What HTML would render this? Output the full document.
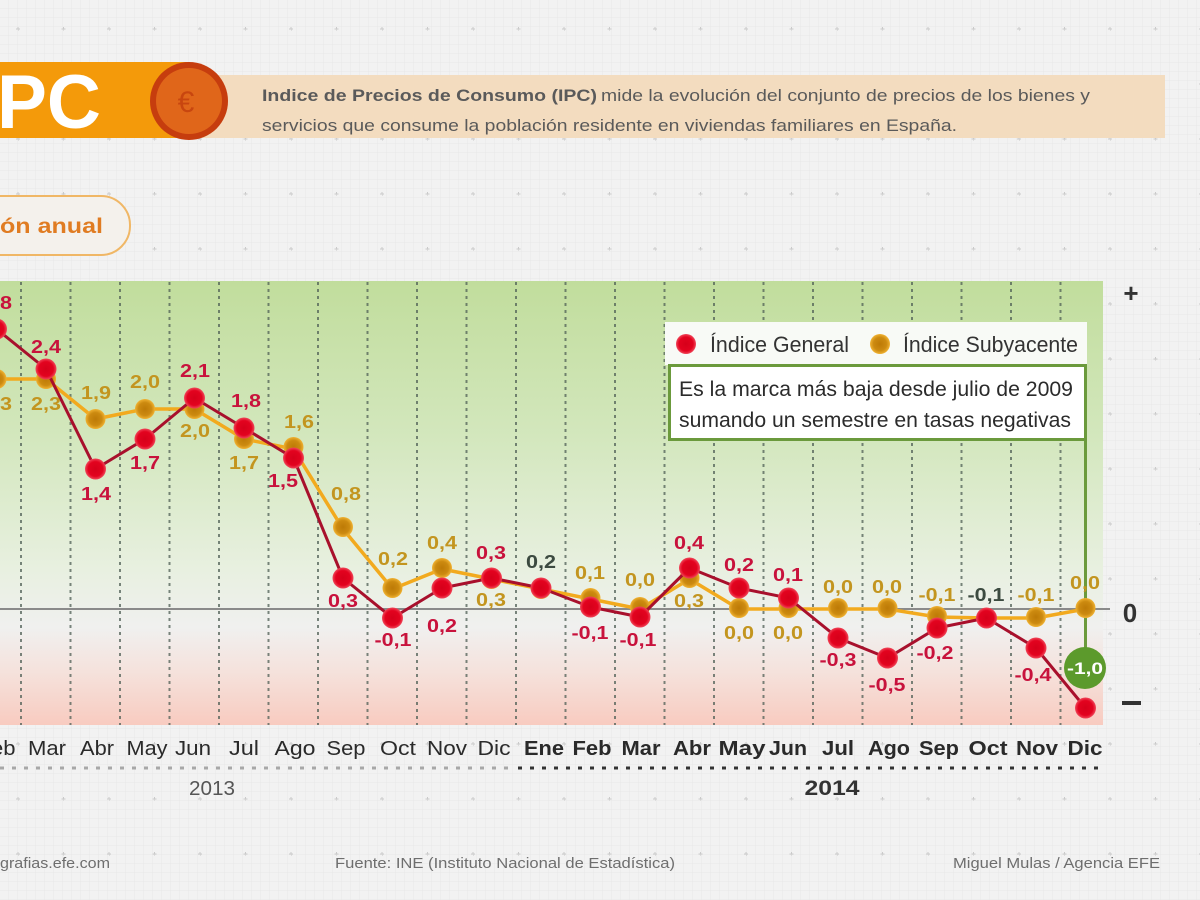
<!DOCTYPE html>
<html><head><meta charset="utf-8"><style>
html,body{margin:0;padding:0;background:#f2f2f2;}
svg{display:block;font-family:"Liberation Sans",Arial,sans-serif;}
</style></head><body>
<svg width="1200" height="900" viewBox="0 0 1200 900" xmlns="http://www.w3.org/2000/svg">
<defs>
<pattern id="fine" width="9" height="9" patternUnits="userSpaceOnUse">
<rect width="9" height="9" fill="#f2f2f2"/>
<path d="M9 0V9M0 9H9" stroke="#e8e8e8" stroke-width="1"/>
</pattern>
<pattern id="cross" x="18" y="29" width="45.5" height="55" patternUnits="userSpaceOnUse">
<path d="M-2 0H2M0 -2V2M43.5 0H47.5M45.5 53V57M43.5 55H47.5M-2 55H2M0 53V57" stroke="#cacaca" stroke-width="1"/>
</pattern>
<linearGradient id="chartbg" x1="0" y1="0" x2="0" y2="1">
<stop offset="0" stop-color="#c1dd9c"/>
<stop offset="0.35" stop-color="#d3e7bd"/>
<stop offset="0.65" stop-color="#e8f0e0"/>
<stop offset="0.78" stop-color="#f0f0ef"/>
<stop offset="0.88" stop-color="#f5e2dc"/>
<stop offset="1" stop-color="#f8cbc0"/>
</linearGradient>
<radialGradient id="rdot">
<stop offset="0" stop-color="#d6001a"/>
<stop offset="0.7" stop-color="#e3031f"/>
<stop offset="1" stop-color="#f0475a"/>
</radialGradient>
<radialGradient id="ydot">
<stop offset="0" stop-color="#bd7a06"/>
<stop offset="0.65" stop-color="#cc8a10"/>
<stop offset="1" stop-color="#f0b232"/>
</radialGradient>
</defs>

<!-- background -->
<rect width="1200" height="900" fill="url(#fine)"/>
<rect width="1200" height="900" fill="url(#cross)"/>

<!-- header -->
<rect x="200" y="75" width="965" height="63" fill="#f3dcbf"/>
<rect x="0" y="62" width="190" height="76" fill="#f49a0a"/>
<text x="-3" y="128" font-size="76" font-weight="bold" fill="#ffffff" textLength="104" lengthAdjust="spacingAndGlyphs">PC</text>
<circle cx="189" cy="101" r="39" fill="#c63d0e"/>
<circle cx="189" cy="101" r="33" fill="#e0661a"/>
<text x="186" y="112" font-size="30" fill="#c8460f" text-anchor="middle">€</text>
<text x="262" y="101" font-size="17" font-weight="bold" fill="#5a5a5a" textLength="335" lengthAdjust="spacingAndGlyphs">Indice de Precios de Consumo (IPC)</text>
<text x="601" y="101" font-size="17" fill="#5a5a5a" textLength="489" lengthAdjust="spacingAndGlyphs">mide la evolución del conjunto de precios de los bienes y</text>
<text x="262" y="131" font-size="17" fill="#5a5a5a" textLength="695" lengthAdjust="spacingAndGlyphs">servicios que consume la población residente en viviendas familiares en España.</text>

<!-- pill -->
<rect x="-60" y="196" width="190" height="59" rx="29" ry="29" fill="#f4f1ec" stroke="#f0b766" stroke-width="2"/>
<text x="0" y="233" font-size="21" font-weight="bold" fill="#e07c22" textLength="103" lengthAdjust="spacingAndGlyphs">ón anual</text>

<!-- chart area -->
<rect x="0" y="281" width="1103" height="444" fill="url(#chartbg)"/>
<g stroke="#4f5f55" stroke-opacity="0.75" stroke-width="2" stroke-dasharray="3,4">
<path d="M21 282V725M70.5 282V725M120 282V725M169.5 282V725M219 282V725M268.5 282V725M318 282V725M367.5 282V725M417 282V725M466.5 282V725M516 282V725M565.5 282V725M615 282V725M664.5 282V725M714 282V725M763.5 282V725M813 282V725M862.5 282V725M912 282V725M961.5 282V725M1011 282V725M1060.5 282V725"/>
</g>
<line x1="0" y1="609" x2="1110" y2="609" stroke="#8a8a8a" stroke-width="2"/>

<!-- legend & annotation -->
<rect x="665" y="322" width="422" height="43" fill="#f8faf6"/>
<circle cx="686" cy="344" r="10" fill="url(#rdot)"/>
<text x="710" y="352" font-size="22" fill="#333" textLength="139" lengthAdjust="spacingAndGlyphs">Índice General</text>
<circle cx="880" cy="344" r="10" fill="url(#ydot)"/>
<text x="903" y="352" font-size="22" fill="#333" textLength="175" lengthAdjust="spacingAndGlyphs">Índice Subyacente</text>
<rect x="669.5" y="365.5" width="416" height="74" fill="#ffffff" stroke="#6b9a3c" stroke-width="3"/>
<text x="679" y="396" font-size="21" fill="#2b2b2b" textLength="394" lengthAdjust="spacingAndGlyphs">Es la marca más baja desde julio de 2009</text>
<text x="679" y="427" font-size="21" fill="#2b2b2b" textLength="392" lengthAdjust="spacingAndGlyphs">sumando un semestre en tasas negativas</text>
<line x1="1085.5" y1="441" x2="1085.5" y2="650" stroke="#6b9a3c" stroke-width="3"/>

<!-- yellow series -->
<polyline fill="none" stroke="#f2aa1e" stroke-width="3.5" stroke-linejoin="round" points="-3.5,379 46,379 95.5,419 145,409 194.5,409 244,439 293.5,449 343,529 392.5,589 442,569 491.5,579 541,589 590.5,599 640,609 689.5,579 739,609 788.5,609 838,609 887.5,609 937,617 986.5,618 1036,618 1085.5,609"/>
<g fill="url(#ydot)">
<circle cx="-3.5" cy="379" r="10"/><circle cx="46" cy="379" r="10"/><circle cx="95.5" cy="419" r="10"/><circle cx="145" cy="409" r="10"/><circle cx="194.5" cy="409" r="10"/><circle cx="244" cy="439" r="10"/><circle cx="293.5" cy="447" r="10"/><circle cx="343" cy="527" r="10"/><circle cx="392.5" cy="588" r="10"/><circle cx="442" cy="568" r="10"/><circle cx="491.5" cy="579" r="10"/><circle cx="541" cy="589" r="10"/><circle cx="590.5" cy="598" r="10"/><circle cx="640" cy="607" r="10"/><circle cx="689.5" cy="578" r="10"/><circle cx="739" cy="608" r="10"/><circle cx="788.5" cy="608" r="10"/><circle cx="838" cy="608" r="10"/><circle cx="887.5" cy="608" r="10"/><circle cx="937" cy="616" r="10"/><circle cx="1036" cy="617" r="10"/><circle cx="1085.5" cy="608" r="10"/>
</g>

<!-- red series -->
<polyline fill="none" stroke="#a8102c" stroke-width="3" stroke-linejoin="round" points="-3.5,329 46,369 95.5,469 145,439 194.5,398 244,428 293.5,458 343,578 392.5,618 442,588 491.5,578 541,588 590.5,607 640,617 689.5,568 739,588 788.5,598 838,638 887.5,658 937,628 986.5,618 1036,648 1085.5,708"/>
<g fill="url(#rdot)">
<circle cx="-3.5" cy="329" r="10.5"/><circle cx="46" cy="369" r="10.5"/><circle cx="95.5" cy="469" r="10.5"/><circle cx="145" cy="439" r="10.5"/><circle cx="194.5" cy="398" r="10.5"/><circle cx="244" cy="428" r="10.5"/><circle cx="293.5" cy="458" r="10.5"/><circle cx="343" cy="578" r="10.5"/><circle cx="392.5" cy="618" r="10.5"/><circle cx="442" cy="588" r="10.5"/><circle cx="491.5" cy="578" r="10.5"/><circle cx="541" cy="588" r="10.5"/><circle cx="590.5" cy="607" r="10.5"/><circle cx="640" cy="617" r="10.5"/><circle cx="689.5" cy="568" r="10.5"/><circle cx="739" cy="588" r="10.5"/><circle cx="788.5" cy="598" r="10.5"/><circle cx="838" cy="638" r="10.5"/><circle cx="887.5" cy="658" r="10.5"/><circle cx="937" cy="628" r="10.5"/><circle cx="986.5" cy="618" r="10.5"/><circle cx="1036" cy="648" r="10.5"/><circle cx="1085.5" cy="708" r="10.5"/>
</g>

<!-- green callout -->
<circle cx="1085" cy="668" r="21" fill="#5c9a2c"/>
<text x="1085" y="674" font-size="17" font-weight="bold" fill="#ffffff" text-anchor="middle" textLength="36" lengthAdjust="spacingAndGlyphs">-1,0</text>

<!-- red labels -->
<g font-size="18" font-weight="bold" fill="#c8123c" text-anchor="middle">
<text x="-3" y="309" textLength="30" lengthAdjust="spacingAndGlyphs">2,8</text>
<text x="46" y="353" textLength="30" lengthAdjust="spacingAndGlyphs">2,4</text>
<text x="96" y="500" textLength="30" lengthAdjust="spacingAndGlyphs">1,4</text>
<text x="145" y="469" textLength="30" lengthAdjust="spacingAndGlyphs">1,7</text>
<text x="195" y="377" textLength="30" lengthAdjust="spacingAndGlyphs">2,1</text>
<text x="246" y="407" textLength="30" lengthAdjust="spacingAndGlyphs">1,8</text>
<text x="283" y="487" textLength="30" lengthAdjust="spacingAndGlyphs">1,5</text>
<text x="343" y="607" textLength="30" lengthAdjust="spacingAndGlyphs">0,3</text>
<text x="393" y="646" textLength="37" lengthAdjust="spacingAndGlyphs">-0,1</text>
<text x="442" y="632" textLength="30" lengthAdjust="spacingAndGlyphs">0,2</text>
<text x="491" y="559" textLength="30" lengthAdjust="spacingAndGlyphs">0,3</text>
<text x="590" y="639" textLength="37" lengthAdjust="spacingAndGlyphs">-0,1</text>
<text x="638" y="646" textLength="37" lengthAdjust="spacingAndGlyphs">-0,1</text>
<text x="689" y="549" textLength="30" lengthAdjust="spacingAndGlyphs">0,4</text>
<text x="739" y="571" textLength="30" lengthAdjust="spacingAndGlyphs">0,2</text>
<text x="788" y="581" textLength="30" lengthAdjust="spacingAndGlyphs">0,1</text>
<text x="838" y="666" textLength="37" lengthAdjust="spacingAndGlyphs">-0,3</text>
<text x="887" y="691" textLength="37" lengthAdjust="spacingAndGlyphs">-0,5</text>
<text x="935" y="659" textLength="37" lengthAdjust="spacingAndGlyphs">-0,2</text>
<text x="1033" y="681" textLength="37" lengthAdjust="spacingAndGlyphs">-0,4</text>
</g>
<g font-size="18" font-weight="bold" fill="#3c4a40" text-anchor="middle">
<text x="541" y="568" textLength="30" lengthAdjust="spacingAndGlyphs">0,2</text>
<text x="986" y="601" textLength="37" lengthAdjust="spacingAndGlyphs">-0,1</text>
</g>
<!-- yellow labels -->
<g font-size="18" font-weight="bold" fill="#c3951f" text-anchor="middle">
<text x="-3" y="410" textLength="30" lengthAdjust="spacingAndGlyphs">2,3</text>
<text x="46" y="410" textLength="30" lengthAdjust="spacingAndGlyphs">2,3</text>
<text x="96" y="399" textLength="30" lengthAdjust="spacingAndGlyphs">1,9</text>
<text x="145" y="388" textLength="30" lengthAdjust="spacingAndGlyphs">2,0</text>
<text x="195" y="437" textLength="30" lengthAdjust="spacingAndGlyphs">2,0</text>
<text x="244" y="469" textLength="30" lengthAdjust="spacingAndGlyphs">1,7</text>
<text x="299" y="428" textLength="30" lengthAdjust="spacingAndGlyphs">1,6</text>
<text x="346" y="500" textLength="30" lengthAdjust="spacingAndGlyphs">0,8</text>
<text x="393" y="565" textLength="30" lengthAdjust="spacingAndGlyphs">0,2</text>
<text x="442" y="549" textLength="30" lengthAdjust="spacingAndGlyphs">0,4</text>
<text x="491" y="606" textLength="30" lengthAdjust="spacingAndGlyphs">0,3</text>
<text x="590" y="579" textLength="30" lengthAdjust="spacingAndGlyphs">0,1</text>
<text x="640" y="586" textLength="30" lengthAdjust="spacingAndGlyphs">0,0</text>
<text x="689" y="607" textLength="30" lengthAdjust="spacingAndGlyphs">0,3</text>
<text x="739" y="639" textLength="30" lengthAdjust="spacingAndGlyphs">0,0</text>
<text x="788" y="639" textLength="30" lengthAdjust="spacingAndGlyphs">0,0</text>
<text x="838" y="593" textLength="30" lengthAdjust="spacingAndGlyphs">0,0</text>
<text x="887" y="593" textLength="30" lengthAdjust="spacingAndGlyphs">0,0</text>
<text x="937" y="601" textLength="37" lengthAdjust="spacingAndGlyphs">-0,1</text>
<text x="1036" y="601" textLength="37" lengthAdjust="spacingAndGlyphs">-0,1</text>
<text x="1085" y="589" textLength="30" lengthAdjust="spacingAndGlyphs">0,0</text>
</g>

<!-- right axis -->
<text x="1131" y="302" font-size="26" font-weight="bold" fill="#333" text-anchor="middle">+</text>
<text x="1130" y="622" font-size="26" font-weight="bold" fill="#333" text-anchor="middle">0</text>
<rect x="1122" y="701" width="19" height="4" fill="#333"/>

<!-- month labels -->
<g font-size="20" fill="#2a2a2a" text-anchor="middle">
<text x="-3.5" y="755" textLength="38" lengthAdjust="spacingAndGlyphs">Feb</text>
<text x="47" y="755" textLength="38" lengthAdjust="spacingAndGlyphs">Mar</text>
<text x="97" y="755" textLength="34" lengthAdjust="spacingAndGlyphs">Abr</text>
<text x="147" y="755" textLength="41" lengthAdjust="spacingAndGlyphs">May</text>
<text x="193" y="755" textLength="36" lengthAdjust="spacingAndGlyphs">Jun</text>
<text x="244" y="755" textLength="30" lengthAdjust="spacingAndGlyphs">Jul</text>
<text x="295" y="755" textLength="41" lengthAdjust="spacingAndGlyphs">Ago</text>
<text x="346" y="755" textLength="39" lengthAdjust="spacingAndGlyphs">Sep</text>
<text x="398" y="755" textLength="36" lengthAdjust="spacingAndGlyphs">Oct</text>
<text x="447" y="755" textLength="40" lengthAdjust="spacingAndGlyphs">Nov</text>
<text x="494" y="755" textLength="33" lengthAdjust="spacingAndGlyphs">Dic</text>
</g>
<g font-size="20" font-weight="bold" fill="#2a2a2a" text-anchor="middle">
<text x="544" y="755" textLength="40" lengthAdjust="spacingAndGlyphs">Ene</text>
<text x="592" y="755" textLength="39" lengthAdjust="spacingAndGlyphs">Feb</text>
<text x="641" y="755" textLength="39" lengthAdjust="spacingAndGlyphs">Mar</text>
<text x="692" y="755" textLength="38" lengthAdjust="spacingAndGlyphs">Abr</text>
<text x="742" y="755" textLength="47" lengthAdjust="spacingAndGlyphs">May</text>
<text x="788" y="755" textLength="38" lengthAdjust="spacingAndGlyphs">Jun</text>
<text x="838" y="755" textLength="32" lengthAdjust="spacingAndGlyphs">Jul</text>
<text x="889" y="755" textLength="42" lengthAdjust="spacingAndGlyphs">Ago</text>
<text x="939" y="755" textLength="40" lengthAdjust="spacingAndGlyphs">Sep</text>
<text x="988" y="755" textLength="39" lengthAdjust="spacingAndGlyphs">Oct</text>
<text x="1037" y="755" textLength="42" lengthAdjust="spacingAndGlyphs">Nov</text>
<text x="1085" y="755" textLength="35" lengthAdjust="spacingAndGlyphs">Dic</text>
</g>
<line x1="0" y1="768" x2="510" y2="768" stroke="#a8a8a8" stroke-width="3" stroke-dasharray="4,8"/>
<line x1="518" y1="768" x2="1105" y2="768" stroke="#333" stroke-width="3" stroke-dasharray="4,8"/>
<text x="212" y="795" font-size="20" fill="#555" text-anchor="middle" textLength="46" lengthAdjust="spacingAndGlyphs">2013</text>
<text x="832" y="795" font-size="21" font-weight="bold" fill="#333" text-anchor="middle" textLength="55" lengthAdjust="spacingAndGlyphs">2014</text>

<!-- footer -->
<text x="0" y="868" font-size="15" fill="#6e6e6e" textLength="110" lengthAdjust="spacingAndGlyphs">grafias.efe.com</text>
<text x="335" y="868" font-size="15" fill="#6e6e6e" textLength="340" lengthAdjust="spacingAndGlyphs">Fuente: INE (Instituto Nacional de Estadística)</text>
<text x="953" y="868" font-size="15" fill="#6e6e6e" textLength="207" lengthAdjust="spacingAndGlyphs">Miguel Mulas / Agencia EFE</text>
</svg>
</body></html>
